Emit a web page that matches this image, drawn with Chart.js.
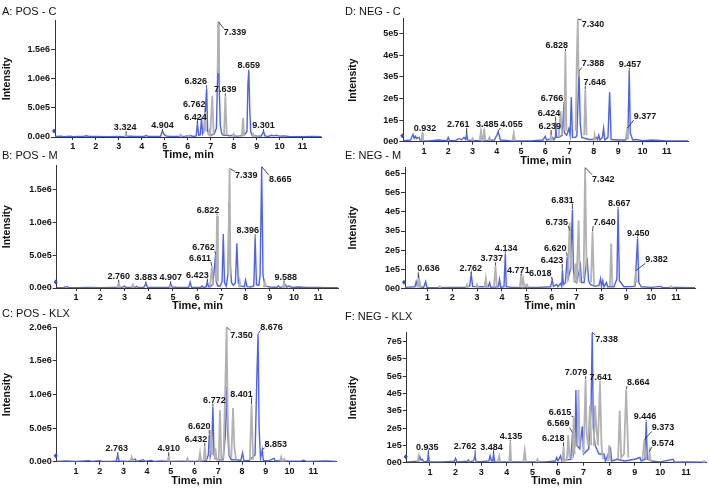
<!DOCTYPE html>
<html><head><meta charset="utf-8">
<script src="https://cdn.jsdelivr.net/npm/chart.js@4/dist/chart.umd.min.js"></script>
<style>
body{margin:0;background:#fff;width:709px;height:488px;position:relative;overflow:hidden;font-family:"Liberation Sans",Arial,sans-serif;}
canvas{position:absolute;}
.ttl{position:absolute;font-size:11px;line-height:13px;color:#111;white-space:nowrap;}
</style></head><body>
<script>
// ---------------- DATA ----------------
const xTickVals = [1,2,3,4,5,6,7,8,9,10,11];
const xTickLabels = ['1','2','3','4','5','6','7','8','9','10','11'];

const yTicksPos = [0,5e5,1e6,1.5e6];
const yLabelsPos = ['0.0e0','5.0e5','1.0e6','1.5e6'];
const yTicksPosK = [0,5e5,1e6,1.5e6,2e6];
const yLabelsPosK = ['0.0e0','5.0e5','1.0e6','1.5e6','2.0e6'];
const yTicksNegC = [0,1e5,2e5,3e5,4e5,5e5];
const yLabelsNegC = ['0e0','1e5','2e5','3e5','4e5','5e5'];
const yTicksNegM = [0,1e5,2e5,3e5,4e5,5e5,6e5];
const yLabelsNegM = ['0e0','1e5','2e5','3e5','4e5','5e5','6e5'];
const yTicksNegK = [0,1e5,2e5,3e5,4e5,5e5,6e5,7e5];
const yLabelsNegK = ['0e0','1e5','2e5','3e5','4e5','5e5','6e5','7e5'];

// A: POS - C   [time min, intensity]
const posC_blue = [[0.23,8e3],[0.5,1.2e4],[0.6,6e3],[0.9,1.5e4],[1.0,6e3],[1.5,1.2e4],[1.6,2e4],[1.7,8e3],[2.0,1e4],[2.5,6e3],[3.0,1e4],[3.2,6e3],[3.45,1.2e4],[3.7,8e3],[4.1,1e4],[4.2,2.6e4],[4.3,8e3],[4.82,1e4],[4.904,1.1e5],[4.95,6e4],[5.05,2e4],[5.2,8e3],[5.6,1e4],[5.9,1.5e4],[6.1,2.5e4],[6.25,1e4],[6.37,2e4],[6.424,2.4e5],[6.48,3e4],[6.55,4e4],[6.6,3.3e5],[6.65,6e4],[6.72,1.2e5],[6.826,8.4e5],[6.87,1e5],[6.93,4e4],[7.0,3e4],[7.15,5e4],[7.25,1.5e5],[7.3,1e6],[7.339,1.98e6],[7.37,9e5],[7.42,2e5],[7.48,6e4],[7.55,3e4],[7.7,3e4],[7.85,2e4],[7.95,3e4],[8.1,1.5e4],[8.3,2e4],[8.5,5e4],[8.58,1e5],[8.62,9e5],[8.659,1.15e6],[8.7,5e5],[8.74,1e5],[8.8,3e4],[8.95,2e4],[9.2,1.5e4],[9.301,1e5],[9.36,2e4],[9.5,1e4],[9.65,3e4],[9.75,2e4],[9.85,3e4],[10.0,1.5e4],[10.2,2e4],[10.4,8e3],[11.0,6e3],[11.5,8e3],[11.83,5e3]];
const posC_gray = [[3.26,5e3],[3.324,5e4],[3.38,5e3],[3.4,null],[5.64,5e3],[5.7,4e4],[5.76,5e3],[5.8,null],[6.0,5e3],[6.05,2.5e4],[6.1,5e3],[6.12,null],[6.7,8e4],[6.762,4.3e5],[6.8,1e5],[6.81,null],[6.89,3e4],[6.94,1e5],[6.98,4e4],[7.07,7.1e5],[7.13,4e4],[7.15,null],[7.3,1.1e6],[7.339,1.98e6],[7.36,1.1e6],[7.37,null],[7.58,3e4],[7.639,7e5],[7.7,3e4],[7.72,null],[7.95,5e3],[8.0,5e4],[8.05,5e3],[8.07,null],[8.36,1e4],[8.41,3.3e5],[8.46,1e4],[8.48,null],[8.8,5e3],[8.85,5e4],[8.9,5e3]];
const posC_peaks = ['3.324','4.904','6.424','6.762','6.826','7.339','7.639','8.659','9.301'];
const posC_peakI = [5e4,1e5,2.4e5,4.3e5,8.4e5,1.98e6,7e5,1.15e6,1e5];

// B: POS - M
const posM_blue = [[0.2,5e3],[0.5,8e3],[0.6,2e4],[0.7,8e3],[1.0,5e3],[1.5,8e3],[2.0,6e3],[2.5,1e4],[2.9,1e4],[3.0,3e4],[3.05,8e3],[3.45,1e4],[3.5,2.5e4],[3.55,8e3],[3.8,1e4],[3.883,7e4],[3.95,1e4],[4.3,8e3],[4.85,1e4],[4.907,7e4],[4.97,1.5e4],[5.2,8e3],[5.65,1e4],[5.71,9e4],[5.77,1e4],[6.0,8e3],[6.15,1e4],[6.2,3e4],[6.25,1e4],[6.37,1.5e4],[6.423,9.5e4],[6.47,2e4],[6.55,2e4],[6.65,6e4],[6.762,5e5],[6.79,1e5],[6.85,3e4],[6.95,3e4],[7.03,1e5],[7.08,8.2e5],[7.13,8e4],[7.2,3e4],[7.27,2e5],[7.32,1.3e6],[7.36,4e5],[7.42,8e4],[7.5,4e4],[7.58,8e4],[7.64,6.8e5],[7.7,8e4],[7.78,3e4],[7.95,2e4],[8.0,1.2e5],[8.06,2e4],[8.2,1.5e4],[8.34,3e4],[8.396,7.7e5],[8.45,5e4],[8.55,4e4],[8.6,2e5],[8.665,1.84e6],[8.72,2e5],[8.8,3e4],[9.0,1.5e4],[9.3,1e4],[9.35,3e4],[9.42,1e4],[9.6,2e4],[9.65,5e4],[9.7,1.5e4],[9.8,3e4],[9.9,1e4],[10.2,1.5e4],[10.5,8e3],[11.0,1e4],[11.5,6e3],[11.83,5e3]];
const posM_gray = [[2.7,5e3],[2.76,8e4],[2.82,5e3],[2.84,null],[3.3,5e3],[3.35,5e4],[3.4,5e3],[3.42,null],[4.86,5e3],[4.9,3e4],[4.95,5e3],[4.97,null],[6.53,2e4],[6.611,3.2e5],[6.66,5e4],[6.68,null],[6.78,1e5],[6.822,1.1e6],[6.86,1e5],[6.88,null],[7.28,2e5],[7.339,1.81e6],[7.38,2e5],[7.4,null],[7.72,1e4],[7.76,1e5],[7.8,1e4],[7.82,null],[8.75,1e4],[8.8,8e4],[8.85,1e4],[8.87,null],[9.53,5e3],[9.588,8e4],[9.64,5e3]];
const posM_peaks = ['2.760','3.883','4.907','6.423','6.611','6.762','6.822','7.339','8.396','8.665','9.588'];
const posM_peakI = [8e4,7e4,7e4,9.5e4,3.2e5,5e5,1.1e6,1.81e6,7.7e5,1.84e6,8e4];

// C: POS - KLX
const posK_blue = [[0.19,5e3],[0.6,1e4],[1.0,5e3],[1.55,1.5e4],[1.65,5e3],[2.0,1.5e4],[2.1,5e3],[2.5,5e3],[2.7,1e4],[2.763,1e5],[2.82,1e4],[3.2,5e3],[3.5,4e4],[3.55,5e3],[3.85,3e4],[3.9,5e3],[4.15,2e4],[4.3,5e3],[4.6,1e4],[5.0,5e3],[5.5,8e3],[6.0,5e3],[6.3,1e4],[6.5,2e4],[6.58,1e5],[6.62,4e5],[6.66,8e4],[6.72,2e5],[6.772,8.2e5],[6.82,1e5],[6.9,4e4],[7.0,3e4],[7.2,3e4],[7.3,4e5],[7.36,1.12e6],[7.4,4e5],[7.45,1e5],[7.55,3e4],[7.75,3e4],[7.95,2e4],[8.02,1.3e5],[8.08,1.5e4],[8.3,2e4],[8.55,1e5],[8.62,1.2e6],[8.676,1.9e6],[8.72,5e5],[8.78,5e4],[8.853,1.75e5],[8.9,2e4],[9.1,1e4],[9.35,5e4],[9.4,1e4],[9.7,1.5e4],[10.0,8e3],[10.5,1e4],[10.6,2e4],[10.7,5e3],[11.2,8e3],[11.5,1.2e4],[11.99,5e3]];
const posK_gray = [[3.3,5e3],[3.35,7e4],[3.4,5e3],[3.42,null],[4.86,5e3],[4.91,8e4],[4.96,5e3],[4.98,null],[5.65,5e3],[5.7,5e4],[5.75,5e3],[5.77,null],[6.18,5e3],[6.23,1.3e5],[6.28,5e3],[6.3,null],[6.38,1e4],[6.432,2.2e5],[6.48,2e4],[6.5,null],[6.64,1e5],[6.7,4.7e5],[6.74,1e5],[6.75,null],[6.84,3e4],[6.88,2e5],[6.93,3e4],[7.02,3e4],[7.07,7.7e5],[7.13,4e4],[7.22,6e4],[7.3,1.2e6],[7.35,2.0e6],[7.4,6e5],[7.47,1e5],[7.55,8e4],[7.62,8e5],[7.68,2e5],[7.75,3e4],[7.77,null],[8.33,3e4],[8.401,8.5e5],[8.47,3e4],[8.49,null],[9.6,5e3],[9.65,7e4],[9.7,5e3],[9.78,4e4],[9.83,5e3]];
const posK_peaks = ['2.763','4.910','6.432','6.620','6.772','7.350','8.401','8.676','8.853'];
const posK_peakI = [1e5,8e4,2.2e5,4e5,8.2e5,2.0e6,8.5e5,1.9e6,1.75e5];

// D: NEG - C
const negC_blue = [[0.15,5e3],[0.45,8e3],[0.55,3.4e4],[0.6,1.5e4],[0.65,2.5e4],[0.7,1.5e4],[0.8,2e4],[0.85,5e3],[1.2,4e3],[1.6,8e3],[1.95,5e3],[2.0,2e4],[2.05,5e3],[2.3,5e3],[2.45,1.5e4],[2.55,8e3],[2.65,2e4],[2.72,1e4],[2.761,3.8e4],[2.8,8e3],[3.0,5e3],[3.6,5e3],[3.9,8e3],[4.0,3e4],[4.055,4.6e4],[4.1,3e4],[4.15,8e3],[4.5,5e3],[5.0,4e3],[5.5,5e3],[5.9,8e3],[6.0,2.5e4],[6.05,8e3],[6.15,1e4],[6.3,2e4],[6.35,8e3],[6.4,2e4],[6.424,9.2e4],[6.46,2e4],[6.55,2e4],[6.7,3e4],[6.766,1.75e5],[6.79,4e4],[6.88,3e4],[6.97,6e4],[7.02,3e4],[7.07,2.06e5],[7.12,2e4],[7.25,2e4],[7.3,3e4],[7.388,3.24e5],[7.44,8e4],[7.5,2e4],[7.8,1e4],[7.95,1e4],[8.1,2e4],[8.15,1e4],[8.2,3e4],[8.25,8e3],[8.35,2e4],[8.4,6.2e4],[8.45,8e3],[8.58,2e4],[8.65,2.3e5],[8.71,1e4],[9.0,8e3],[9.3,8e3],[9.4,2e4],[9.457,3.3e5],[9.5,4e4],[9.6,8e3],[9.75,1e4],[10.0,5e3],[10.4,8e3],[11.0,4e3],[11.89,4e3]];
const negC_gray = [[0.9,5e3],[0.932,4e4],[0.96,5e3],[0.98,null],[2.95,5e3],[3.0,1.5e4],[3.05,5e3],[3.07,null],[3.3,5e3],[3.35,5e4],[3.4,5e3],[3.44,8e3],[3.485,6e4],[3.53,5e3],[3.55,null],[3.65,5e3],[3.7,2e4],[3.75,5e3],[3.77,null],[4.65,5e3],[4.7,3.8e4],[4.75,5e3],[4.77,null],[6.2,5e3],[6.239,3e4],[6.28,5e3],[6.3,null],[6.55,2e4],[6.63,1.4e5],[6.69,3e4],[6.7,null],[6.78,5e4],[6.828,4.15e5],[6.87,5e4],[6.88,null],[7.25,5e4],[7.3,4e5],[7.34,5.65e5],[7.37,3e5],[7.38,null],[7.6,3e4],[7.646,2.4e5],[7.7,3e4],[7.72,null],[8.0,5e3],[8.03,3e4],[8.07,5e3],[8.09,null],[9.3,1e4],[9.377,6e4],[9.42,1e4]];
const negC_peaks = ['0.932','2.761','3.485','4.055','6.239','6.424','6.766','6.828','7.340','7.388','7.646','9.457','9.377'];
const negC_peakI = [4e4,3.8e4,6e4,4.6e4,3e4,9.2e4,1.75e5,4.15e5,5.65e5,3.24e5,2.4e5,3.3e5,6e4];

// E: NEG - M
const negM_blue = [[0.1,5e3],[0.5,8e3],[0.55,3.5e4],[0.6,1e4],[0.85,5e3],[0.93,3.5e4],[0.98,5e3],[1.3,3e3],[2.0,5e3],[2.5,5e3],[2.7,1e4],[2.762,7.5e4],[2.82,1e4],[3.0,8e3],[3.45,8e3],[3.5,3e4],[3.55,5e3],[3.85,8e3],[3.9,4.7e4],[3.95,5e3],[4.08,8e3],[4.134,1.82e5],[4.17,8e3],[4.4,5e3],[5.0,5e3],[5.5,5e3],[5.95,8e3],[6.018,4.3e4],[6.07,1e4],[6.2,2e4],[6.25,8e3],[6.35,2.5e4],[6.4,1e4],[6.43,9.5e4],[6.47,2e4],[6.55,3e4],[6.62,1.66e5],[6.66,5e4],[6.75,1e5],[6.831,4.1e5],[6.87,1e5],[6.92,4e4],[7.0,3e4],[7.15,1.2e5],[7.2,3e4],[7.3,3e4],[7.42,1.6e5],[7.48,4e4],[7.55,2e4],[7.75,1e4],[7.9,1.5e4],[7.96,5e4],[8.0,1e4],[8.05,4e4],[8.1,8e3],[8.2,3e4],[8.25,8e3],[8.5,8e3],[8.62,5e4],[8.667,4.15e5],[8.72,4e4],[8.9,8e3],[9.35,1e4],[9.45,2.6e5],[9.5,3e4],[9.6,8e3],[10.0,5e3],[10.4,1e4],[10.45,3e3],[11.0,4e3],[11.76,3e3]];
const negM_gray = [[0.6,5e3],[0.636,5.2e4],[0.67,1e4],[0.7,3e4],[0.74,5e3],[0.76,null],[1.45,3e3],[1.5,1e4],[1.55,3e3],[1.57,null],[2.55,5e3],[2.6,2e4],[2.65,5e3],[2.67,null],[2.95,5e3],[3.0,2e4],[3.05,5e3],[3.07,null],[3.3,5e3],[3.35,5.2e4],[3.4,5e3],[3.42,null],[3.68,1e4],[3.737,1.16e5],[3.79,1e4],[3.81,null],[4.72,1e4],[4.771,6.4e4],[4.81,2e4],[4.85,5e4],[4.9,1e4],[5.0,2e4],[5.05,5e3],[5.07,null],[6.65,5e4],[6.72,3.45e5],[6.78,1e5],[6.79,null],[6.9,3e4],[6.95,1.3e5],[7.0,3e4],[7.08,3.55e5],[7.13,3e4],[7.14,null],[7.28,5e4],[7.342,6.3e5],[7.4,1e5],[7.41,null],[7.58,3e4],[7.64,2.95e5],[7.7,2e4],[7.72,null],[8.34,1e4],[8.39,2.35e5],[8.44,1e4],[8.46,null],[9.32,1e4],[9.382,9e4],[9.42,3e4],[9.44,null],[10.75,3e3],[10.8,1e4],[10.85,3e3]];
const negM_peaks = ['0.636','2.762','3.737','4.134','4.771','6.018','6.423','6.620','6.735','6.831','7.342','7.640','8.667','9.450','9.382'];
const negM_peakI = [5.2e4,7.5e4,1.16e5,1.82e5,6.4e4,4.3e4,9.5e4,1.66e5,3e5,4.1e5,6.3e5,2.95e5,4.15e5,2.6e5,9e4];

// F: NEG - KLX
const negK_blue = [[0.09,5e3],[0.55,8e3],[0.6,3.5e4],[0.65,1.5e4],[0.7,2e4],[0.75,5e3],[0.9,8e3],[0.935,5.4e4],[0.97,5e3],[1.5,5e3],[1.95,8e3],[2.0,2.5e4],[2.05,5e3],[2.45,8e3],[2.5,1.5e4],[2.55,5e3],[2.7,1e4],[2.762,3.8e4],[2.8,5e3],[3.3,1e4],[3.35,4e4],[3.4,1e4],[3.45,1e4],[3.484,5.4e4],[3.52,5e3],[3.9,5e3],[4.5,5e3],[5.5,5e3],[5.9,1e4],[5.95,3e4],[6.0,1e4],[6.1,4e4],[6.15,1e4],[6.5,2e4],[6.569,1.7e5],[6.6,5e4],[6.66,1e5],[6.7,4.2e5],[6.74,1e5],[6.85,8e4],[6.95,2.1e5],[7.0,5e4],[7.2,8e4],[7.29,3e5],[7.338,7.5e5],[7.38,2e5],[7.45,1e5],[7.6,5e4],[7.8,5e4],[7.85,1e4],[8.05,8e4],[8.1,1e4],[8.3,2e4],[8.6,1e4],[9.0,2e4],[9.2,3e4],[9.25,1e4],[9.4,2e4],[9.446,2.35e5],[9.49,2e4],[9.7,8e3],[10.0,5e3],[10.5,2e4],[10.55,3e3],[11.0,4e3],[11.81,3e3]];
const negK_gray = [[0.5,5e3],[0.55,3.5e4],[0.58,5e3],[0.6,null],[3.65,5e3],[3.7,4e4],[3.75,5e3],[3.77,null],[4.1,5e3],[4.135,1.2e5],[4.17,5e3],[4.19,null],[4.65,5e3],[4.7,7e4],[4.75,5e3],[4.77,null],[5.15,3e3],[5.2,2e4],[5.25,3e3],[5.27,null],[6.18,1e4],[6.218,9e4],[6.26,1e4],[6.35,2e4],[6.4,1.6e5],[6.45,3e4],[6.47,null],[6.57,5e4],[6.615,2.6e5],[6.65,5e4],[6.66,null],[6.76,1e5],[6.8,4.2e5],[6.85,1e5],[6.86,null],[7.0,5e4],[7.079,4.8e5],[7.12,1.6e5],[7.18,1e5],[7.25,3.3e5],[7.3,1e5],[7.31,null],[7.4,1e5],[7.45,3.3e5],[7.5,2e5],[7.56,1e5],[7.641,4.6e5],[7.7,1e5],[7.76,2e4],[7.78,null],[7.95,1e4],[8.0,1e5],[8.05,1e4],[8.07,null],[8.35,2e4],[8.41,3e5],[8.47,3e4],[8.58,5e4],[8.664,4.2e5],[8.75,3e4],[8.77,null],[9.3,2e4],[9.373,1.3e5],[9.42,3e4],[9.44,null],[9.54,1e4],[9.574,6e4],[9.62,1e4],[9.64,null],[11.65,3e3],[11.7,1e4],[11.75,3e3]];
const negK_peaks = ['0.935','2.762','3.484','4.135','6.218','6.569','6.615','7.079','7.338','7.641','8.664','9.446','9.373','9.574'];
const negK_peakI = [5.4e4,3.8e4,5.4e4,1.2e5,9e4,1.7e5,2.6e5,4.8e5,7.5e5,4.6e5,4.2e5,2.35e5,1.3e5,6e4];

// ---------------- LAYOUT (px) ----------------
const BLUE = '#4f62ea', GRAY = '#b2b2b2';
const panels = [
 {title:'A: POS - C', tpos:[2,5], blue:posC_blue, gray:posC_gray, peaks:posC_peaks, peakI:posC_peakI, yT:yTicksPos, yL:yLabelsPos,
  box:[0,14,350,148], padT:6, padR:28.3, yW:55, xH:25, xr:[0.23,11.83], yMax:2.01e6,
  off:[[-1,-7],[0,-6],[-2,-6],[-11,-8],[-11,-7],[16.5,10.3],[0,-7],[0,-5],[0,-6]]},
 {title:'B: POS - M', tpos:[2,148.5], blue:posM_blue, gray:posM_gray, peaks:posM_peaks, peakI:posM_peakI, yT:yTicksPos, yL:yLabelsPos,
  box:[0,159,350,154], padT:6, padR:11.7, yW:56.7, xH:25, xr:[0.2,11.83], yMax:1.864e6,
  off:[[0,-7],[0,-6],[0,-6],[-10,-7],[-12,-9],[-12,-8],[-9,-6],[16.6,6.5],[-7.5,-7],[18.5,12.3],[1.7,-6]]},
 {title:'C: POS - KLX', tpos:[2,307], blue:posK_blue, gray:posK_gray, peaks:posK_peaks, peakI:posK_peakI, yT:yTicksPosK, yL:yLabelsPosK,
  box:[0,321,350,167], padT:6, padR:13.3, yW:56.7, xH:26.3, xr:[0.19,11.99], yMax:2.0e6,
  off:[[-1,-6.7],[0,-8],[-8.7,-8],[-10,-9],[1.5,-7],[15,7.3],[-10,-11],[13.5,-7.5],[13.6,-6]]},
 {title:'D: NEG - C', tpos:[345,5], blue:negC_blue, gray:negC_gray, peaks:negC_peaks, peakI:negC_peakI, yT:yTicksNegC, yL:yLabelsNegC,
  box:[346,12,363,156], padT:6.3, padR:20.7, yW:57.3, xH:26.3, xr:[0.15,11.89], yMax:5.7e5,
  off:[[2.7,-5.3],[-8.5,-9.5],[2.9,-5],[13.5,-7.7],[-1.3,-9.2],[-6.5,-9.1],[-11.8,-5.5],[-8.6,-6.9],[15.2,4.6],[14.1,-8.3],[9.5,-8],[0.8,-6.3],[17.7,-12.7]]},
 {title:'E: NEG - M', tpos:[345,148.5], blue:negM_blue, gray:negM_gray, peaks:negM_peaks, peakI:negM_peakI, yT:yTicksNegM, yL:yLabelsNegM,
  box:[346,161,363,152], padT:6, padR:14, yW:59, xH:24.7, xr:[0.1,11.76], yMax:6.33e5,
  off:[[10.1,-10],[-0.4,-6],[-3.7,-7.8],[0.8,-6],[-2.8,-6],[-12,-7.3],[-10.2,-10.1],[-11.8,-8.2],[-13.2,-9.1],[-10,-10.4],[18.2,10.8],[11.9,-10.1],[1.1,-6],[0.6,-6],[20.6,-11.7]]},
 {title:'F: NEG - KLX', tpos:[345,310], blue:negK_blue, gray:negK_gray, peaks:negK_peaks, peakI:negK_peakI, yT:yTicksNegK, yL:yLabelsNegK,
  box:[346,326,363,162], padT:5.7, padR:2.3, yW:60.7, xH:25.3, xr:[0.09,11.81], yMax:7.52e5,
  off:[[-1,-6],[-10,-10],[-2,-6],[0.7,-6],[-10.3,-8.7],[-14.3,-9.8],[-13.7,-5.7],[-9.6,-7.3],[14.4,6.3],[0.7,-6],[12.1,-7.8],[-1.2,-6],[18.6,-12.7],[13.4,-9.5]]}
];

Chart.defaults.font.family = '"Liberation Sans", Arial, sans-serif';
Chart.defaults.color = '#111';

function labelPlugin(p){
  return {
    id:'peaklabels',
    afterDatasetsDraw(chart){
      const {ctx, scales:{x, y}, chartArea} = chart;
      ctx.save();
      ctx.font = 'bold 9px "Liberation Sans", Arial, sans-serif';
      ctx.textAlign = 'center'; ctx.textBaseline = 'middle';
      p.peaks.forEach((txt, i) => {
        const px = x.getPixelForValue(parseFloat(txt));
        const py = y.getPixelForValue(p.peakI[i]);
        const [dx, dy] = p.off[i];
        const cx = px + dx, cy = py + dy;
        const w = ctx.measureText(txt).width, h = 8;
        const bx = Math.min(Math.max(px, cx - w/2), cx + w/2);
        const by = Math.min(Math.max(py, cy - h/2), cy + h/2);
        if (Math.hypot(bx - px, by - py) > 0.8) {
          ctx.strokeStyle = '#333'; ctx.lineWidth = 0.9;
          ctx.beginPath(); ctx.moveTo(px, py - 0.5); ctx.lineTo(bx, by); ctx.stroke();
        }
        ctx.fillStyle = '#151515';
        ctx.fillText(txt, cx, cy + 0.5);
      });
      // small blue marker on the y axis
      const mx = chartArea.left - 1, my = chartArea.bottom - 6;
      ctx.fillStyle = '#3048e0';
      ctx.beginPath(); ctx.moveTo(mx, my - 2.5); ctx.lineTo(mx + 2, my); ctx.lineTo(mx, my + 2.5); ctx.lineTo(mx - 2, my); ctx.closePath(); ctx.fill();
      ctx.restore();
    }
  };
}

function build(p){
  const t = document.createElement('div');
  t.className = 'ttl'; t.textContent = p.title;
  t.style.left = p.tpos[0] + 'px'; t.style.top = p.tpos[1] + 'px';
  const cv = document.createElement('canvas');
  cv.width = p.box[2]; cv.height = p.box[3];
  cv.style.left = p.box[0] + 'px'; cv.style.top = p.box[1] + 'px';
  cv.style.width = p.box[2] + 'px'; cv.style.height = p.box[3] + 'px';
  document.body.appendChild(cv);
  document.body.appendChild(t);
  const toPts = arr => arr.map(([a, b]) => ({x: a, y: b}));
  new Chart(cv, {
    type: 'line',
    data: {datasets: [
      {data: toPts(p.gray), borderColor: GRAY, borderWidth: 1.8, order: 0, spanGaps: false},
      {data: toPts(p.blue), borderColor: BLUE, borderWidth: 1.4, order: 1, spanGaps: false}
    ]},
    options: {
      responsive: false, animation: false, events: [],
      elements: {point: {radius: 0}, line: {tension: 0}},
      layout: {padding: {left: 0, top: p.padT, right: p.padR, bottom: 0}},
      plugins: {legend: {display: false}, tooltip: {enabled: false}},
      scales: {
        x: {type: 'linear', min: p.xr[0], max: p.xr[1],
          afterBuildTicks: s => { s.ticks = xTickVals.map(v => ({value: v})); },
          afterFit: s => { s.height = p.xH; },
          ticks: {autoSkip: false, maxRotation: 0, padding: 1, font: {size: 9, weight: 'bold'}, color: '#111',
                  callback: (v, i) => xTickLabels[i]},
          grid: {drawOnChartArea: false, drawTicks: true, tickLength: 3, color: '#333'},
          border: {color: '#333', width: 1},
          title: {display: true, text: 'Time, min', font: {size: 11, weight: 'bold'}, padding: {top: 0, bottom: 0}, color: '#111'}},
        y: {type: 'linear', min: 0, max: p.yMax,
          afterBuildTicks: s => { s.ticks = p.yT.map(v => ({value: v})); },
          afterFit: s => { s.width = p.yW; },
          ticks: {autoSkip: false, padding: 1, font: {size: 9, weight: 'bold'}, color: '#111',
                  callback: (v, i) => p.yL[i]},
          grid: {drawOnChartArea: false, drawTicks: true, tickLength: 4, color: '#333'},
          border: {color: '#333', width: 1},
          title: {display: true, text: 'Intensity', font: {size: 10.5, weight: 'bold'}, padding: {top: 1, bottom: 0}, color: '#111'}}
      }
    },
    plugins: [labelPlugin(p)]
  });
}
panels.forEach(build);
</script>
</body></html>
